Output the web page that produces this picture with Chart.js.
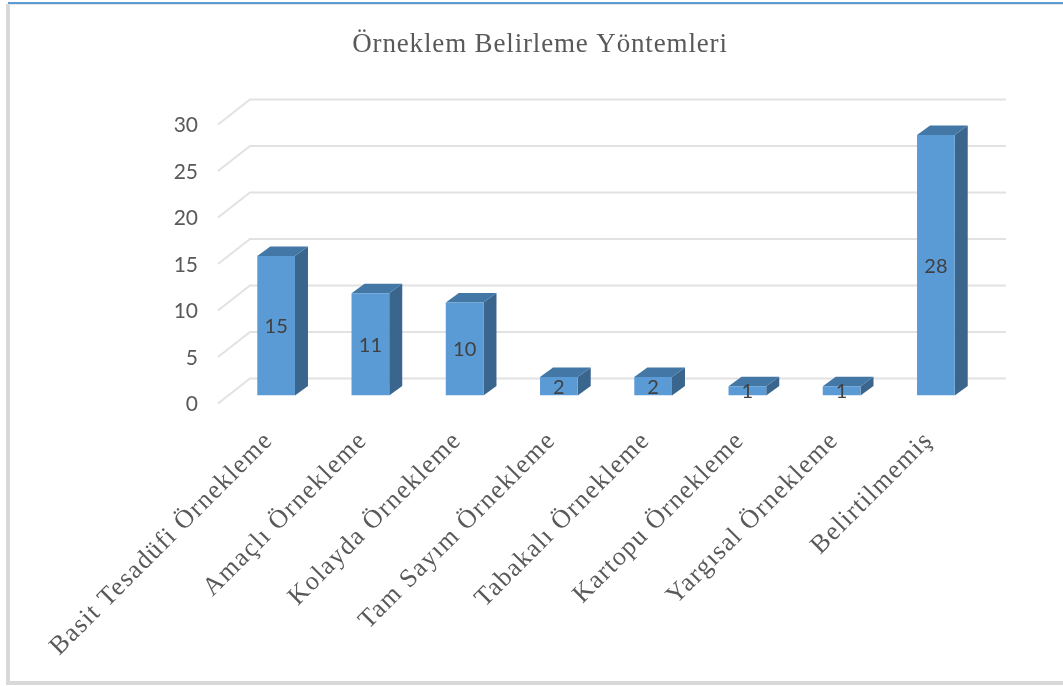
<!DOCTYPE html>
<html lang="tr">
<head>
<meta charset="utf-8">
<title>Örneklem Belirleme Yöntemleri</title>
<script src="https://cdn.jsdelivr.net/npm/chart.js@4"></script>
<style>
  html, body { margin: 0; padding: 0; background: #fff; overflow: hidden; }
  #frame {
    position: absolute; left: 6px; top: 4px; width: 1057px; height: 681px;
    box-sizing: border-box; background: #fff;
    border-left: 4px solid #d9d9d9; border-bottom: 4px solid #d9d9d9; border-top: 1px solid #e3e3e3;
  }
  #topline { position: absolute; left: 8px; top: 2px; right: 0; height: 2px; background: #5b9bd5; }
  #graf { position: absolute; left: 0; top: 0; }
</style>
</head>
<body>
<div id="frame"></div>
<div id="topline"></div>
<canvas id="graf" width="1063" height="686"></canvas>
<script>
const kategoriler = [
  "Basit Tesadüfi Örnekleme",
  "Amaçlı Örnekleme",
  "Kolayda Örnekleme",
  "Tam Sayım Örnekleme",
  "Tabakalı Örnekleme",
  "Kartopu Örnekleme",
  "Yargısal Örnekleme",
  "Belirtilmemiş"
];
const degerler = [15, 11, 10, 2, 2, 1, 1, 28];
const baslik = "Örneklem Belirleme Yöntemleri";

const griYazi = "#595959";
const griCizgi = "#e2e2e2";
const onYuz = "#5b9bd5";
const ustYuz = "#4377a5";
const yanYuz = "#3a658c";

// harf araligi sadece baslik ve x etiketlerinde
function aralikli(nesne, metod, aralik) {
  const asil = nesne[metod];
  nesne[metod] = function (...args) {
    const ctx = this.ctx;
    const eski = ctx.letterSpacing;
    ctx.letterSpacing = aralik;
    asil.apply(this, args);
    ctx.letterSpacing = eski;
  };
}

// 3B gorunum: duvar, taban ve cubuk derinligi
const derinlik = {
  id: "derinlik",
  afterLayout(chart) {
    if (chart.$aralik) return;
    chart.$aralik = true;
    aralikli(chart.titleBlock, "draw", "0.85px");
    aralikli(chart.scales.x, "drawLabels", "1.35px");
  },
  beforeDatasetsDraw(chart) {
    const { ctx, chartArea, scales } = chart;
    ctx.save();
    ctx.strokeStyle = griCizgi;
    ctx.lineWidth = 2;
    scales.y.ticks.forEach((t) => {
      const y = scales.y.getPixelForValue(t.value);
      ctx.beginPath();
      ctx.moveTo(chartArea.left - 11, y + 8);
      ctx.lineTo(chartArea.left + 21, y - 17);
      ctx.lineTo(chartArea.right + 23, y - 17);
      ctx.stroke();
    });
    chart.getDatasetMeta(0).data.forEach((bar) => {
      const sag = bar.x + bar.width / 2;
      const sol = bar.x - bar.width / 2;
      const dx = 13;
      const dy = 9.5;
      ctx.fillStyle = yanYuz;
      ctx.beginPath();
      ctx.moveTo(sag, bar.y);
      ctx.lineTo(sag + dx, bar.y - dy);
      ctx.lineTo(sag + dx, bar.base - dy);
      ctx.lineTo(sag, bar.base);
      ctx.closePath();
      ctx.fill();
      ctx.fillStyle = ustYuz;
      ctx.beginPath();
      ctx.moveTo(sol, bar.y);
      ctx.lineTo(sol + dx, bar.y - dy);
      ctx.lineTo(sag + dx, bar.y - dy);
      ctx.lineTo(sag, bar.y);
      ctx.closePath();
      ctx.fill();
    });
    ctx.restore();
  },
  afterDatasetsDraw(chart) {
    const { ctx } = chart;
    ctx.save();
    ctx.fillStyle = "#404040";
    ctx.font = "20px Lato";
    ctx.textAlign = "center";
    ctx.textBaseline = "middle";
    chart.getDatasetMeta(0).data.forEach((bar, i) => {
      ctx.fillText(degerler[i], bar.x, (bar.y + bar.base) / 2 + 1);
    });
    ctx.restore();
  }
};

new Chart(document.getElementById("graf"), {
  type: "bar",
  data: {
    labels: kategoriler,
    datasets: [{
      data: degerler,
      backgroundColor: onYuz,
      categoryPercentage: 1,
      barPercentage: 0.4
    }]
  },
  options: {
    responsive: false,
    animation: false,
    layout: { padding: { left: 97, right: 80, top: 29, bottom: 0 } },
    plugins: {
      legend: { display: false },
      tooltip: { enabled: false },
      title: {
        display: true,
        text: baslik,
        color: griYazi,
        font: { family: "'Liberation Serif'", size: 27, weight: "normal", lineHeight: 1.2 },
        padding: { top: 0, bottom: 55.1 }
      }
    },
    scales: {
      x: {
        grid: { display: false },
        border: { display: false },
        ticks: {
          color: griYazi,
          font: { family: "'Liberation Serif'", size: 26 },
          minRotation: 45,
          maxRotation: 45,
          autoSkip: false,
          padding: 22,
          labelOffset: -7
        },
        afterFit(scale) {
          scale.height = 290.5;
          scale.paddingLeft = 0;
          scale.paddingRight = 0;
        }
      },
      y: {
        min: 0,
        max: 30,
        grid: { display: false },
        border: { display: false },
        ticks: {
          stepSize: 5,
          color: griYazi,
          font: { family: "Lato", size: 21 },
          padding: 23,
          labelOffset: 9
        },
        afterFit(scale) {
          scale.width = 132;
          scale.paddingTop = 0;
          scale.paddingBottom = 0;
        }
      }
    }
  },
  plugins: [derinlik]
});
</script>
</body>
</html>
